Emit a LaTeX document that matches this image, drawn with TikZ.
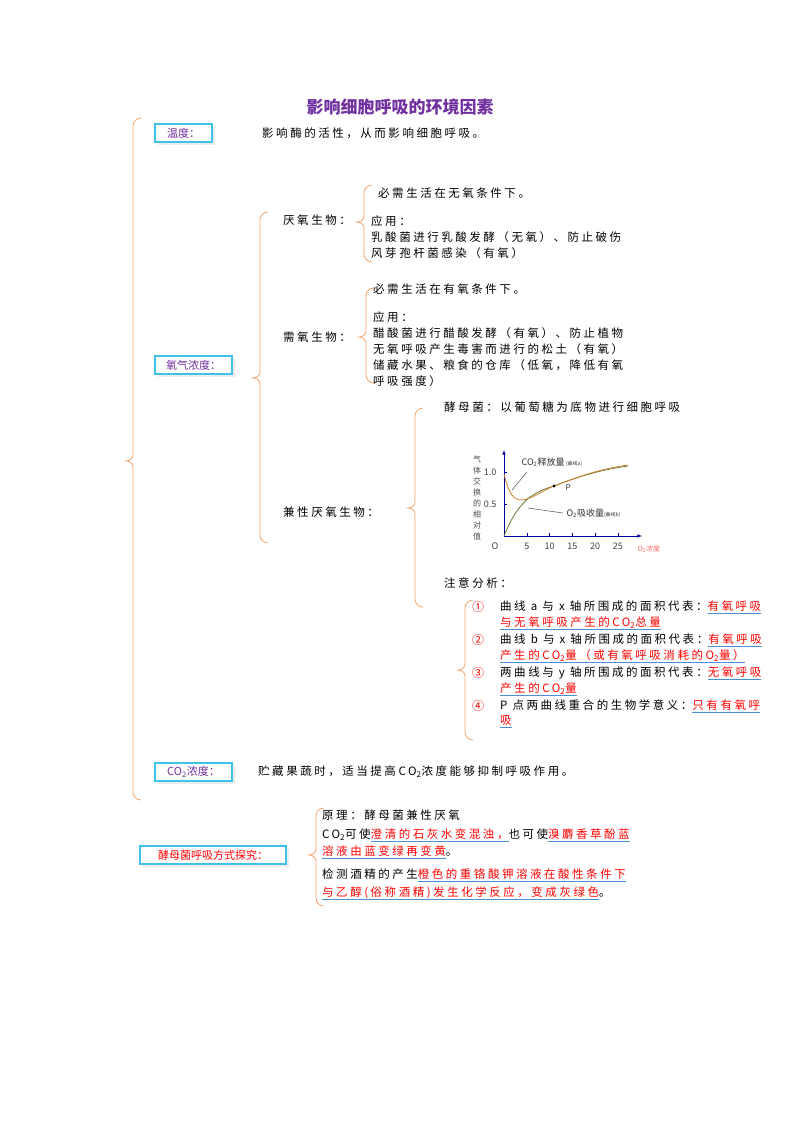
\documentclass[tikz,border=0pt]{standalone}
\usepackage{fontspec}
\setmainfont{Noto Sans CJK SC}
\usetikzlibrary{shadows}
\definecolor{brc}{HTML}{F5A46A}
\definecolor{bx}{HTML}{3EC1EA}
\definecolor{pur}{HTML}{7030A0}
\definecolor{ulb}{HTML}{4A8FD8}
\newcommand\rd[1]{\setbox0\hbox{\textcolor{red}{#1}}\rlap{\textcolor{ulb}{\rule[-3pt]{\wd0}{0.8pt}}}\box0}
\newcommand\brc[4]{\draw[brc,line width=0.8pt] (#1+8,#2) to[out=180,in=90] (#1,#2+8) -- (#1,#3-6) to[out=-90,in=0] (#1-7,#3) to[out=0,in=90] (#1,#3+6) -- (#1,#4-8) to[out=-90,in=180] (#1+8,#4);}
\begin{document}
\begin{tikzpicture}[x=1pt,y=-1pt,
  t/.style={anchor=west,inner sep=0pt,font=\fontsize{11.5}{14}\selectfont\addfontfeature{LetterSpace=22}},
  bxs/.style={draw=bx,line width=1.2pt,fill=white,drop shadow={opacity=0.15},inner sep=0pt,font=\fontsize{11}{14}\selectfont,text=pur},
  ax/.style={draw=blue!60!black,line width=0.6pt,-latex}]
\useasboundingbox (0,0) rectangle (800,1132);
\node[font=\fontsize{17}{18}\bfseries\selectfont,text=pur] (title) at (400,107) {影响细胞呼吸的环境因素};
\brc{133}{118}{461}{800}
% temperature
\node[bxs,minimum width=57,minimum height=18] (wd) at (183.5,133) {温度：};
\node[t] (wdt) at (262,133) {影响酶的活性，从而影响细胞呼吸。};
% oxygen
\node[bxs,minimum width=77,minimum height=18] (yq) at (193.5,365) {氧气浓度：};
\brc{260}{212}{378}{543}
\node[t] (yy) at (283,220) {厌氧生物：};
\brc{364}{185}{222}{262}
\node[t] (yy1) at (378,193) {必需生活在无氧条件下。};
\node[t] (yy2) at (371,221) {应用：};
\node[t] (yy3) at (371,237) {乳酸菌进行乳酸发酵（无氧）、防止破伤};
\node[t] (yy4) at (371,253) {风芽孢杆菌感染（有氧）};
\node[t] (xy) at (283,337) {需氧生物：};
\brc{366}{288}{337}{383}
\node[t] (xy1) at (373,289) {必需生活在有氧条件下。};
\node[t] (xy2) at (373,317) {应用：};
\node[t] (xy3) at (373,333) {醋酸菌进行醋酸发酵（有氧）、防止植物};
\node[t] (xy4) at (373,349) {无氧呼吸产生毒害而进行的松土（有氧）};
\node[t] (xy5) at (373,365) {储藏水果、粮食的仓库（低氧，降低有氧};
\node[t] (xy6) at (373,381) {呼吸强度）};
\node[t] (jx) at (283,512) {兼性厌氧生物：};
\brc{415}{408}{508}{607}
\node[t] (jm) at (444,407) {酵母菌：以葡萄糖为底物进行细胞呼吸};
% chart
\coordinate (O) at (504,536);
\coordinate (yt) at (504,450);
\coordinate (xt) at (642,536);
\draw[ax] (O) -- (yt);
\draw[ax] (O) -- (xt);
\foreach \v/\l in {5/5,10/10,15/15,20/20,25/25}{
  \draw[blue!60!black,line width=0.5pt] (504+4.55*\v,536) -- (504+4.55*\v,533);
  \node[font=\fontsize{9}{10}\selectfont,text=black!75] at (504+4.55*\v,546) {\l};}
\draw[blue!60!black,line width=0.5pt] (504,472) -- (507,472);
\draw[blue!60!black,line width=0.5pt] (504,504) -- (507,504);
\node[font=\fontsize{9}{10}\selectfont,text=black!75] at (490,472) {1.0};
\node[font=\fontsize{9}{10}\selectfont,text=black!75] at (490,504) {0.5};
\node[font=\fontsize{9}{10}\itshape\selectfont,text=black!75] at (495,546) {O};
\node[font=\fontsize{8}{11}\selectfont,text=black!70,align=center] at (477,498) {气\\体\\交\\换\\的\\相\\对\\值};
\node[font=\fontsize{7}{8}\selectfont,text=red!60] at (649,549) {O\textsubscript{2}浓度};
\draw[olive!60!green!70!black,line width=0.8pt] (O) .. controls (512,516) and (520,505) .. (530,497) .. controls (542,489) and (548,488) .. (554,486) .. controls (580,476) and (600,470) .. (628,466);
\draw[brown!70!orange,line width=0.8pt] (504,474) .. controls (509,495) and (514,500) .. (522,500) .. controls (532,499) and (544,490) .. (554,486) .. controls (580,476) and (600,469) .. (628,465);
\node[circle,fill=black,inner sep=1.2pt] (P) at (554,486) {};
\node[font=\fontsize{8}{9}\selectfont,text=black!80,anchor=west] (pl) at (562,488) {P};
\node[font=\fontsize{9}{9}\selectfont,text=black!80,anchor=west] (al) at (518,462) {CO\textsubscript{2}释放量\,{\fontsize{5}{5}\selectfont(曲线a)}};
\node[font=\fontsize{9}{9}\selectfont,text=black!80,anchor=west] (bl) at (563,513) {O\textsubscript{2}吸收量{\fontsize{5}{5}\selectfont(曲线b)}};
\coordinate (al1) at (512,490); \coordinate (al2) at (527,472);
\draw[black!70,line width=0.5pt] (al1) -- (al2);
\coordinate (bl1) at (528,508);
\draw[black!70,line width=0.5pt] (bl1) -- (bl.west);
\node[t] (zy) at (444,583) {注意分析：};
\brc{465}{600}{670}{740}
\foreach \n/\y in {①/607,②/640,③/673,④/706}{\node[anchor=west,inner sep=0pt,text=red] at (472,\y) {\fontsize{12}{14}\selectfont\n};}
\node[t] (a1) at (500,607) {曲线 a 与 x 轴所围成的面积代表：\rd{有氧呼吸}};
\node[t] (a2) at (500,623) {\rd{与无氧呼吸产生的CO\textsubscript{2}总量}};
\node[t] (b1) at (500,640) {曲线 b 与 x 轴所围成的面积代表：\rd{有氧呼吸}};
\node[t] (b2) at (500,656) {\rd{产生的CO\textsubscript{2}量（或有氧呼吸消耗的O\textsubscript{2}量）}};
\node[t] (c1) at (500,673) {两曲线与 y 轴所围成的面积代表：\rd{无氧呼吸}};
\node[t] (c2) at (500,689) {\rd{产生的CO\textsubscript{2}量}};
\node[t] (d1) at (500,706) {P 点两曲线重合的生物学意义：\rd{只有有氧呼}};
\node[t] (d2) at (500,722) {\rd{吸}};
% CO2
\node[bxs,minimum width=77,minimum height=18] (co) at (193.5,772) {CO\textsubscript{2}浓度：};
\node[t] (cot) at (258,772) {贮藏果蔬时，适当提高CO\textsubscript{2}浓度能够抑制呼吸作用。};
% yeast
\node[bxs,minimum width=146,minimum height=18,text=red] (ym) at (213,855) {酵母菌呼吸方式探究：};
\brc{316}{808}{855}{906}
\node[t] (y1) at (322,815) {原理：酵母菌兼性厌氧};
\node[t] (y2) at (322,835) {CO\textsubscript{2}可使\rd{澄清的石灰水变混浊，}也可使\rd{溴麝香草酚蓝}};
\node[t] (y3) at (322,852) {\rd{溶液由蓝变绿再变黄}。};
\node[t] (y4) at (322,875) {检测酒精的产生\rd{橙色的重铬酸钾溶液在酸性条件下}};
\node[t] (y5) at (322,893) {\rd{与乙醇(俗称酒精)发生化学反应，变成灰绿色}。};
\end{tikzpicture}
\end{document}
